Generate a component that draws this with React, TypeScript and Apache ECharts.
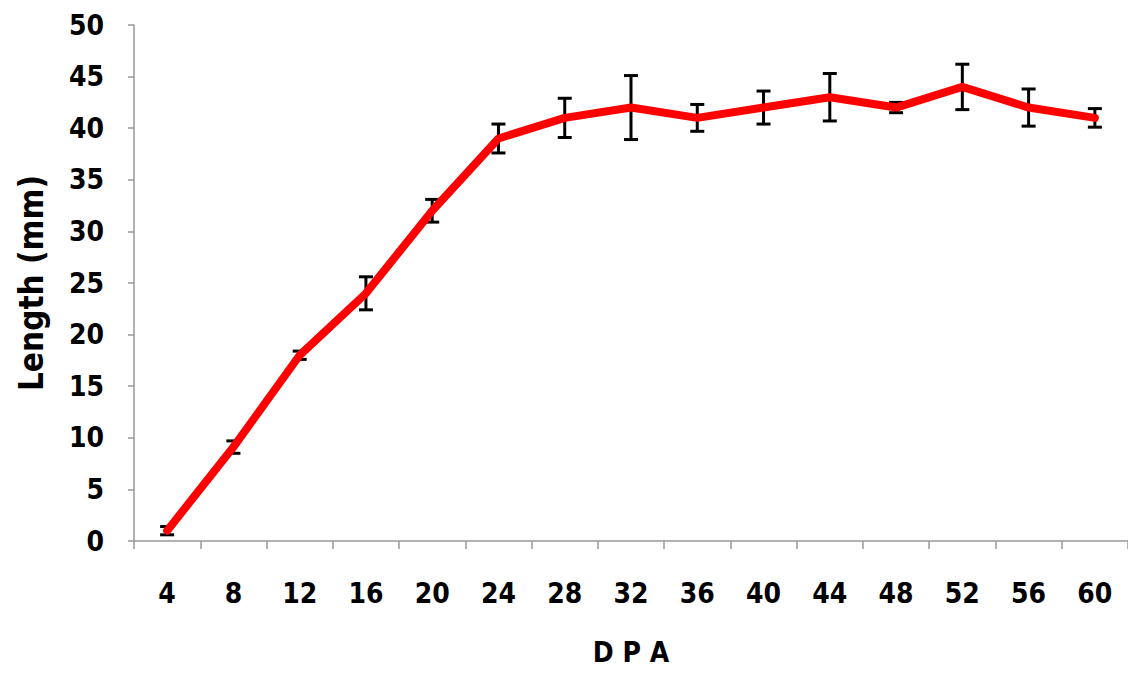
import React, { useEffect, useRef } from "react";
import * as echarts from "echarts";

const categories = ["4", "8", "12", "16", "20", "24", "28", "32", "36", "40", "44", "48", "52", "56", "60"];
const lengths = [1, 9.1, 18, 24, 32, 39, 41, 42, 41, 42, 43, 42, 44, 42, 41];
const errors = [0.4, 0.6, 0.4, 1.6, 1.1, 1.4, 1.9, 3.1, 1.3, 1.6, 2.3, 0.5, 2.2, 1.8, 0.9];
const yTicks = [0, 5, 10, 15, 20, 25, 30, 35, 40, 45, 50];

const FONT = "'DejaVu Sans Condensed', 'Liberation Sans Narrow', sans-serif";

export default function App() {
  const ref = useRef<HTMLDivElement>(null);
  useEffect(() => {
    document.body.style.margin = "0";
    const chart = echarts.init(ref.current!, null, { renderer: "svg" });
    const errData = categories.map((c, i) => [i, lengths[i] - errors[i], lengths[i] + errors[i]]);
    chart.setOption({
      animation: false,
      backgroundColor: "#ffffff",
      grid: { left: 134, top: 25, width: 995, bottom: 134, containLabel: false },
      xAxis: {
        type: "category",
        data: categories,
        boundaryGap: true,
        name: "D P A",
        nameLocation: "middle",
        nameGap: 97,
        nameTextStyle: { fontFamily: FONT, fontWeight: "bold", fontSize: 28, color: "#000" },
        axisLine: { lineStyle: { color: "#999", width: 1.5 } },
        axisTick: { show: true, length: 8, alignWithLabel: false, lineStyle: { color: "#999", width: 1.5 } },
        axisLabel: { margin: 38, fontFamily: FONT, fontWeight: "bold", fontSize: 28, color: "#000" },
        splitLine: { show: false },
      },
      yAxis: {
        type: "value",
        min: 0,
        max: 50,
        interval: 5,
        name: "Length (mm)",
        nameLocation: "middle",
        nameGap: 86,
        nameRotate: 90,
        nameTextStyle: { fontFamily: FONT, fontWeight: "bold", fontSize: 33, color: "#000" },
        axisLine: { show: true, lineStyle: { color: "#999", width: 1.5 } },
        axisTick: { show: true, length: 6, inside: false, lineStyle: { color: "#999", width: 1.5 } },
        axisLabel: {
          margin: 30,
          fontFamily: FONT,
          fontWeight: "bold",
          fontSize: 28,
          color: "#000",
          formatter: (v: number) => (yTicks.includes(v) ? String(v) : ""),
        },
        splitLine: { show: false },
      },
      series: [
        {
          type: "custom",
          z: 1,
          data: errData,
          renderItem: (params: any, api: any) => {
            const x = api.value(0);
            const lo = api.coord([x, api.value(1)]);
            const hi = api.coord([x, api.value(2)]);
            const w = 7;
            const st = { stroke: "#000", lineWidth: 3 };
            return {
              type: "group",
              children: [
                { type: "line", shape: { x1: lo[0], y1: lo[1], x2: hi[0], y2: hi[1] }, style: st },
                { type: "line", shape: { x1: lo[0] - w, y1: lo[1], x2: lo[0] + w, y2: lo[1] }, style: st },
                { type: "line", shape: { x1: hi[0] - w, y1: hi[1], x2: hi[0] + w, y2: hi[1] }, style: st },
              ],
            };
          },
        },
        {
          type: "line",
          z: 5,
          data: lengths,
          symbol: "none",
          lineStyle: { color: "#ff0000", width: 8, cap: "round", join: "round" },
        },
      ],
    });
    return () => chart.dispose();
  }, []);
  return <div ref={ref} style={{ width: 1128, height: 675 }} />;
}
